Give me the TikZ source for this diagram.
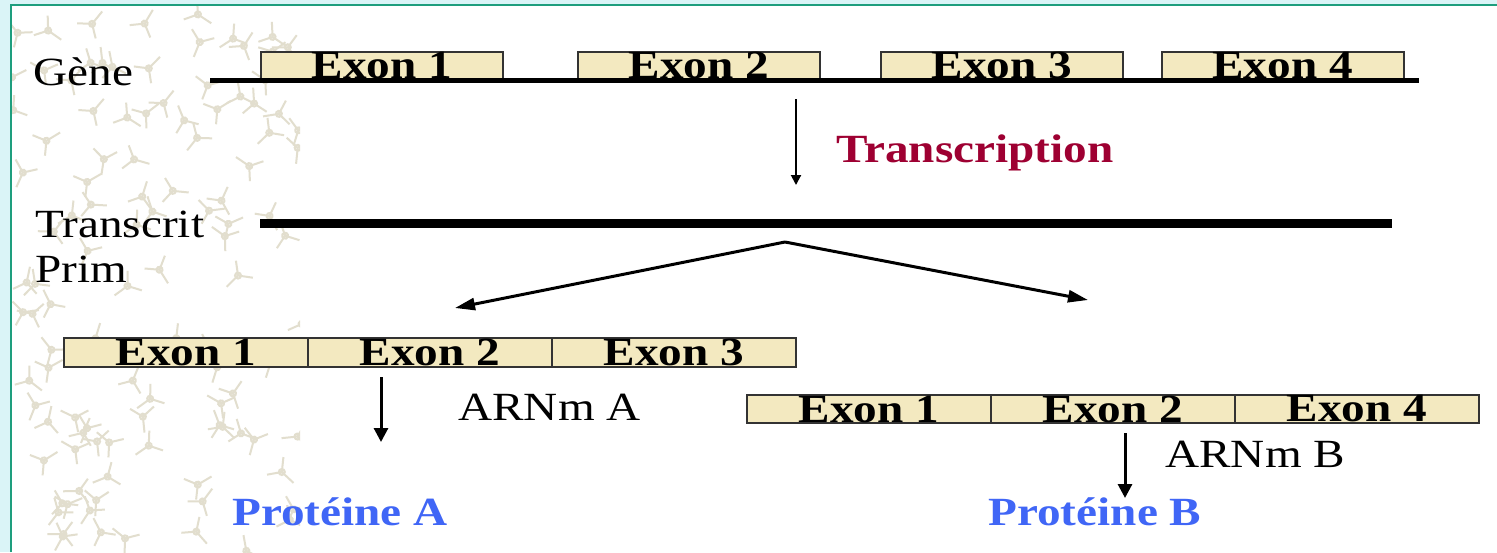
\documentclass[tikz,border=0pt]{standalone}
\usepackage{fontspec}
\setmainfont{Liberation Serif}[FakeStretch=1.18]
\definecolor{exonfill}{HTML}{F3E9C0}
\definecolor{boxline}{HTML}{333333}
\definecolor{darkred}{HTML}{9E0032}
\definecolor{protblue}{HTML}{4066F6}
\definecolor{frameteal}{HTML}{1E9E7E}
\definecolor{framecyan}{HTML}{DAF4F7}
\definecolor{molecule}{HTML}{E2DECE}
\usetikzlibrary{positioning}
\usetikzlibrary{arrows.meta}
\tikzstyle{exon} = [draw=boxline, fill=exonfill, line width=1pt, outer sep=0pt, inner sep=0pt, minimum width=121pt, minimum height=14pt, font=\fontsize{20}{22}\selectfont\bfseries]
\tikzstyle{caption} = [anchor=base west, inner sep=0pt, font=\fontsize{20}{22}\selectfont]
\tikzstyle{strand} = [line width=2.5pt]
\tikzstyle{flow} = [line width=1.5pt, -{Triangle[length=7pt,width=7pt]}]

\begin{document}
\begin{tikzpicture}[x=0.5pt, y=-0.5pt]
  % slide frame
  \useasboundingbox (0,0) rectangle (1497,552);
  \fill[framecyan] (0,0) rectangle (1497,552);
  \fill[white] (11,5) rectangle (1497,552);
  \draw[frameteal, line width=1pt] (11,552) -- (11,5) -- (1497,5);

  % molecule texture on the left
  \begin{scope}
    \clip (12,6) rectangle (300,552);
    \pgfmathsetseed{7}
    \foreach \k in {1,...,110}{
      \pgfmathsetmacro\mx{12+rnd*290}
      \pgfmathsetmacro\my{6+rnd*546}
      \pgfmathsetmacro\ma{rnd*360}
      \draw[molecule, line width=1pt, rotate around={\ma:(\mx,\my)}]
        (\mx,\my) circle (1.5pt) -- ++(0,-16) (\mx,\my) -- ++(-12,9) (\mx,\my) -- ++(12,9);
    }
  \end{scope}

  % gene
  \node[caption] (gene) at (33,85) {Gène};
  \node[exon] (g1) at (382,65.5) {Exon 1};
  \node[exon] (g2) at (699,65.5) {Exon 2};
  \node[exon] (g3) at (1002,65.5) {Exon 3};
  \node[exon] (g4) at (1282.5,65.5) {Exon 4};
  \coordinate (gs) at (210,80);
  \coordinate (ge) at (1419,80);
  \draw[strand] (gs) -- (ge);

  % transcription
  \coordinate (t0) at (796,99);
  \coordinate (t1) at (796,185);
  \draw[line width=1pt, -{Triangle[length=5pt,width=5pt]}] (t0) -- (t1);
  \node[caption, font=\fontsize{20}{22}\selectfont\bfseries, darkred] (tr) at (836,162) {Transcription};

  % primary transcript
  \node[caption] (pt1) at (35,237) {Transcrit};
  \node[caption] (pt2) at (35,282) {Prim};
  \coordinate (ps) at (260,223);
  \coordinate (pe) at (1392,223);
  \draw[line width=4.5pt] (ps) -- (pe);

  % splicing
  \coordinate (sp) at (785,242);
  \coordinate (spa) at (455,308);
  \coordinate (spb) at (1088,300);
  \draw[line width=1.5pt, -{Triangle[length=10pt,width=6pt]}] (sp) -- (spa);
  \draw[line width=1.5pt, -{Triangle[length=10pt,width=6pt]}] (sp) -- (spb);

  % mRNA A
  \node[exon, minimum width=122pt, minimum height=14.5pt] (a1) at (186,352.5) {Exon 1};
  \node[exon, minimum width=122pt, minimum height=14.5pt, right=0pt of a1] (a2) {Exon 2};
  \node[exon, minimum width=122pt, minimum height=14.5pt, right=0pt of a2] (a3) {Exon 3};
  \node[caption] (ma) at (458,420) {ARNm A};
  \coordinate (aa0) at (381,377);
  \coordinate (aa1) at (381,442);
  \draw[flow] (aa0) -- (aa1);
  \node[caption, font=\fontsize{20}{22}\selectfont\bfseries, protblue] (pa) at (232,525) {Protéine A};

  % mRNA B
  \node[exon, minimum width=122pt, minimum height=14pt] (b1) at (869,409) {Exon 1};
  \node[exon, minimum width=122pt, minimum height=14pt, right=0pt of b1] (b2) {Exon 2};
  \node[exon, minimum width=122pt, minimum height=14pt, right=0pt of b2] (b3) {Exon 4};
  \node[caption] (mb) at (1165,467) {ARNm B};
  \coordinate (ab0) at (1125,433);
  \coordinate (ab1) at (1125,498);
  \draw[flow] (ab0) -- (ab1);
  \node[caption, font=\fontsize{20}{22}\selectfont\bfseries, protblue] (pb) at (988,525) {Protéine B};
\end{tikzpicture}
\end{document}
